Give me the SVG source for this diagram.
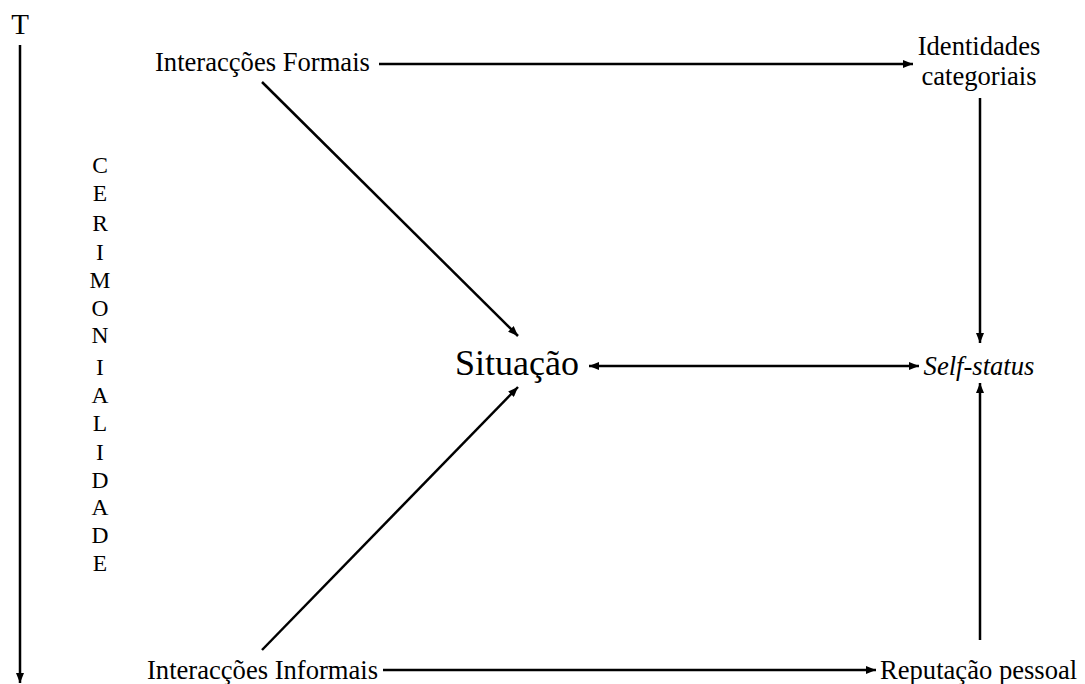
<svg xmlns="http://www.w3.org/2000/svg" width="1085" height="684" viewBox="0 0 1085 684">
<style>
text{font-family:"Liberation Serif","Times New Roman",serif;fill:#000}
.n{font-size:26.6px}
.c{font-size:23.5px;text-anchor:middle}
.l{stroke:#000;stroke-width:2.5;fill:none}
</style>
<defs>
<marker id="ah" viewBox="0 0 10 8" refX="10" refY="4" markerWidth="10" markerHeight="8" markerUnits="userSpaceOnUse" orient="auto-start-reverse">
<path d="M0,0 L10,4 L0,8 Z" fill="#000"/>
</marker>
</defs>
<rect width="1085" height="684" fill="#fff"/>
<g id="axis">
<text x="20" y="34" style="font-size:29px" text-anchor="middle">T</text>
<line class="l" x1="20" y1="45" x2="20" y2="683" marker-end="url(#ah)"/>
</g>
<g id="cerimonialidade">
<text class="c" x="100" y="173">C</text>
<text class="c" x="100" y="201">E</text>
<text class="c" x="100" y="231">R</text>
<text class="c" x="100" y="260">I</text>
<text class="c" x="100" y="288">M</text>
<text class="c" x="100" y="316">O</text>
<text class="c" x="100" y="343">N</text>
<text class="c" x="100" y="375">I</text>
<text class="c" x="100" y="403">A</text>
<text class="c" x="100" y="431">L</text>
<text class="c" x="100" y="460">I</text>
<text class="c" x="100" y="488">D</text>
<text class="c" x="100" y="515">A</text>
<text class="c" x="100" y="543">D</text>
<text class="c" x="100" y="571">E</text>
</g>
<g id="formais"><text class="n" x="155" y="71">Interacções Formais</text></g>
<g id="identidades">
<text class="n" x="979" y="55" text-anchor="middle">Identidades</text>
<text class="n" x="979" y="85" text-anchor="middle">categoriais</text>
</g>
<g id="situacao"><text x="517" y="375" text-anchor="middle" style="font-size:36px">Situação</text></g>
<g id="selfstatus"><text class="n" x="979" y="375" text-anchor="middle" font-style="italic">Self-status</text></g>
<g id="informais"><text class="n" x="147" y="679">Interacções Informais</text></g>
<g id="reputacao"><text class="n" x="880" y="679">Reputação pessoal</text></g>
<g id="connectors">
<line class="l" x1="379" y1="64" x2="913" y2="64" marker-end="url(#ah)"/>
<line class="l" x1="262" y1="82" x2="518" y2="336" marker-end="url(#ah)"/>
<line class="l" x1="262" y1="650" x2="518" y2="387" marker-end="url(#ah)"/>
<line class="l" x1="980" y1="98" x2="980" y2="343" marker-end="url(#ah)"/>
<line class="l" x1="589" y1="366" x2="919" y2="366" marker-start="url(#ah)" marker-end="url(#ah)"/>
<line class="l" x1="980" y1="640" x2="980" y2="383" marker-end="url(#ah)"/>
<line class="l" x1="383" y1="670" x2="876" y2="670" marker-end="url(#ah)"/>
</g>
</svg>
